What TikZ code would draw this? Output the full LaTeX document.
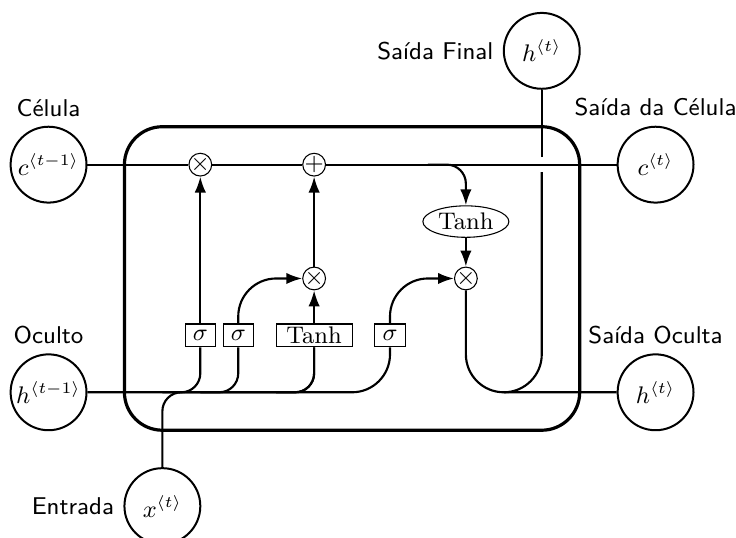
\documentclass[tikz,border=0pt]{standalone}
\usetikzlibrary{arrows.meta,shapes.geometric}
\newcommand{\tstep}[2]{$#1^{\langle #2\rangle}$}
\begin{document}
\begin{tikzpicture}[
  font=\fontsize{9}{11}\selectfont,
  >={Latex[length=2.1mm,width=1.5mm]},
  cellbox/.style={rectangle,rounded corners=5mm,draw,very thick},
  oper/.style={circle,draw,inner sep=-0.5pt,minimum size=3mm},
  func/.style={ellipse,draw,inner sep=1pt},
  ext/.style={circle,draw,line width=.75pt,minimum width=1cm,inner sep=1pt},
  gate/.style={rectangle,draw,minimum width=4mm,minimum height=3mm,inner sep=1pt},
  lbl/.style={font=\fontsize{9.1}{11}\selectfont\sffamily},
  wire/.style={rounded corners=.25cm,thick},
  bigwire/.style={rounded corners=.5cm,thick},
]
\useasboundingbox (-4.64,-3.42) rectangle (5.06,3.67);

% the cell
\node[cellbox,minimum height=4cm,minimum width=6cm] (cell) at (0,0) {};

% gates
\node[gate] (sigf) at (-2,-0.75) {$\sigma$};
\node[gate] (sigi) at (-1.5,-0.75) {$\sigma$};
\node[gate,minimum width=1cm] (tanhc) at (-0.5,-0.75) {Tanh};
\node[gate] (sigo) at (0.5,-0.75) {$\sigma$};

% operators
\node[oper] (mulf) at (-2,1.5) {$\times$};
\node[oper] (addc) at (-0.5,1.5) {$+$};
\node[oper] (muli) at (-0.5,0) {$\times$};
\node[oper] (mulo) at (1.5,0) {$\times$};
\node[func] (tanho) at (1.5,0.75) {Tanh};

% inputs and outputs
\node[ext,label={[lbl]Célula}] (cin) at (-4,1.5) {\tstep{c}{t-1}};
\node[ext,label={[lbl]Oculto}] (hin) at (-4,-1.5) {\tstep{h}{t-1}};
\node[ext,label={[lbl]left:Entrada}] (xin) at (-2.5,-3) {\tstep{x}{t}};
\node[ext,label={[lbl]Saída da Célula}] (cout) at (4,1.5) {\tstep{c}{t}};
\node[ext,label={[lbl]Saída Oculta}] (hout) at (4,-1.5) {\tstep{h}{t}};
\node[ext,label={[lbl]left:Saída Final}] (hfin) at (2.5,3) {\tstep{h}{t}};

\draw[wire] (cin) -- (mulf) -- (addc) -- (cout);

\draw[bigwire] (hin) -| (sigo);
\draw[wire] (hin -| sigf) ++(-0.5,0) -| (sigf);
\draw[wire] (hin -| sigi) ++(-0.5,0) -| (sigi);
\draw[wire] (hin -| tanhc) ++(-0.5,0) -| (tanhc);
\draw[wire] (xin) -- (xin |- hin) -| (tanhc);

\draw[->,bigwire] (sigf) -- (mulf);
\draw[->,bigwire] (sigi) |- (muli);
\draw[->,bigwire] (tanhc) -- (muli);
\draw[->,bigwire] (sigo) |- (mulo);
\draw[->,bigwire] (muli) -- (addc);
\draw[->,wire] (addc -| tanho) ++(-0.5,0) -| (tanho);
\draw[->,bigwire] (tanho) -- (mulo);

\draw[bigwire] (mulo) |- (hout);
\coordinate (gap) at ([yshift=-1mm]cout -| hfin);
\draw[bigwire] (hout -| hfin) ++(-0.5,0) -| (gap);
\draw[bigwire] ([yshift=2mm]gap) -- (hfin);
\end{tikzpicture}
\end{document}
